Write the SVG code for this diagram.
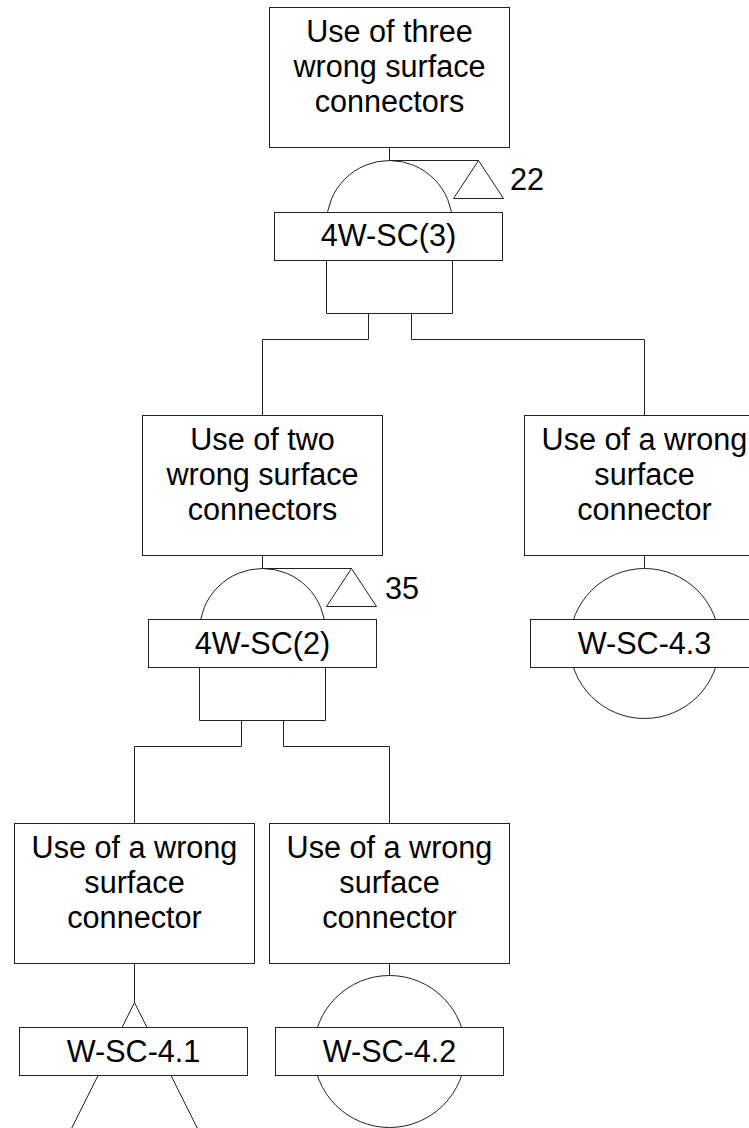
<svg xmlns="http://www.w3.org/2000/svg" width="749" height="1128" viewBox="0 0 749 1128">
  <style>
    .box { fill: #fff; stroke: #222; stroke-width: 1; }
    .ln { fill: none; stroke: #222; stroke-width: 1; }
    .txt { font-family: "Liberation Sans", Arial, sans-serif; font-size: 30.6px; fill: #000; text-anchor: middle; }
    .num { font-family: "Liberation Sans", Arial, sans-serif; font-size: 30.6px; fill: #000; }
  </style>
  <rect width="749" height="1128" fill="#fff"/>

  <!-- connectors between events and gates -->
  <g id="connectors" class="ln">
    <path d="M389.5,147.5 V160.5"/>
    <path d="M368.5,313.5 V339.5 H262.5 V415.5"/>
    <path d="M411.5,313.5 V339.5 H644.5 V415.5"/>
    <path d="M262.5,555.5 V568.5"/>
    <path d="M644.5,555.5 V568.5"/>
    <path d="M241.5,720.5 V746.5 H134.5 V823.5"/>
    <path d="M283.5,720.5 V746.5 H389.5 V823.5"/>
    <path d="M134.5,963.5 V1002.5"/>
    <path d="M389.5,963.5 V975.5"/>
  </g>

  <!-- top event -->
  <g id="top-event">
    <rect class="box" x="269.5" y="7.5" width="240" height="140"/>
    <text class="txt" x="389.5" y="42">Use of three</text>
    <text class="txt" x="389.5" y="77">wrong surface</text>
    <text class="txt" x="389.5" y="112">connectors</text>
  </g>

  <!-- AND gate 4W-SC(3) with transfer triangle 22 -->
  <g id="gate-4w-sc-3">
    <path class="box" d="M326.5,313.5 V223.5 A63,63 0 0 1 452.5,223.5 V313.5 Z"/>
    <path class="ln" d="M389.5,160.5 H478.5"/>
    <polygon class="box" points="478.5,160.5 453.5,198.5 503.5,198.5"/>
    <text class="num" x="510" y="190">22</text>
    <rect class="box" x="274.5" y="212.5" width="228" height="48"/>
    <text class="txt" x="388.5" y="246">4W-SC(3)</text>
  </g>

  <!-- intermediate event: two wrong connectors -->
  <g id="two-wrong">
    <rect class="box" x="142.5" y="415.5" width="240" height="140"/>
    <text class="txt" x="262.5" y="450">Use of two</text>
    <text class="txt" x="262.5" y="485">wrong surface</text>
    <text class="txt" x="262.5" y="520">connectors</text>
  </g>

  <!-- AND gate 4W-SC(2) with transfer triangle 35 -->
  <g id="gate-4w-sc-2">
    <path class="box" d="M199.5,720.5 V631.5 A63,63 0 0 1 325.5,631.5 V720.5 Z"/>
    <path class="ln" d="M262.5,568.5 H351.5"/>
    <polygon class="box" points="351.5,568.5 326.5,606.5 376.5,606.5"/>
    <text class="num" x="385" y="599">35</text>
    <rect class="box" x="148.5" y="619.5" width="228" height="48"/>
    <text class="txt" x="262.5" y="654">4W-SC(2)</text>
  </g>

  <!-- basic event W-SC-4.3 -->
  <g id="event-w-sc-4-3">
    <rect class="box" x="524.5" y="415.5" width="240" height="140"/>
    <text class="txt" x="644.5" y="450">Use of a wrong</text>
    <text class="txt" x="644.5" y="485">surface</text>
    <text class="txt" x="644.5" y="520">connector</text>
    <circle class="box" cx="644.5" cy="643.5" r="75"/>
    <rect class="box" x="530.5" y="619.5" width="228" height="48"/>
    <text class="txt" x="644.5" y="654">W-SC-4.3</text>
  </g>

  <!-- transferred event W-SC-4.1 -->
  <g id="event-w-sc-4-1">
    <rect class="box" x="14.5" y="823.5" width="240" height="140"/>
    <text class="txt" x="134.5" y="858">Use of a wrong</text>
    <text class="txt" x="134.5" y="893">surface</text>
    <text class="txt" x="134.5" y="928">connector</text>
    <polygon class="box" points="134.5,1002.5 55.5,1160.5 213.5,1160.5"/>
    <rect class="box" x="19.5" y="1027.5" width="228" height="48"/>
    <text class="txt" x="133.5" y="1062">W-SC-4.1</text>
  </g>

  <!-- basic event W-SC-4.2 -->
  <g id="event-w-sc-4-2">
    <rect class="box" x="269.5" y="823.5" width="240" height="140"/>
    <text class="txt" x="389.5" y="858">Use of a wrong</text>
    <text class="txt" x="389.5" y="893">surface</text>
    <text class="txt" x="389.5" y="928">connector</text>
    <circle class="box" cx="389.5" cy="1051.5" r="76"/>
    <rect class="box" x="275.5" y="1027.5" width="228" height="48"/>
    <text class="txt" x="389.5" y="1062">W-SC-4.2</text>
  </g>
</svg>
